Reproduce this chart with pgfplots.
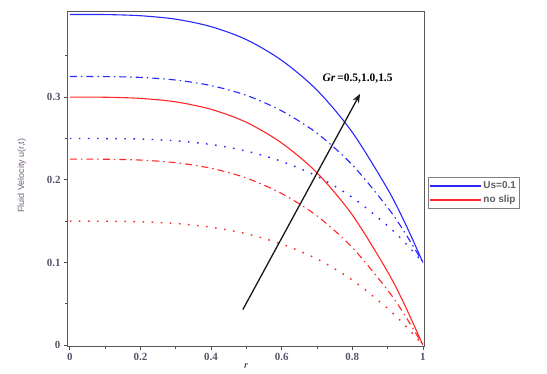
\documentclass[border=0pt]{standalone}
\usepackage{pgfplots}
\pgfplotsset{compat=1.18}
\usepackage{fontspec}
\setmainfont{Liberation Serif}
\newfontfamily\legfont{Liberation Sans}
\usetikzlibrary{arrows.meta}
\definecolor{myblue}{RGB}{40,40,255}
\definecolor{myred}{RGB}{255,40,40}
\definecolor{ticktxt}{RGB}{85,85,105}
\definecolor{labtxt}{RGB}{115,95,125}
\definecolor{legtxt}{RGB}{95,95,95}
\begin{document}
\begin{tikzpicture}
\begin{axis}[
  scale only axis, width=356bp, height=334bp,
  at={(0,0)}, anchor=south west,
  xmin=-0.005, xmax=1.003, ymin=-0.001, ymax=0.403,
  xtick={0,0.2,0.4,0.6,0.8,1},
  xticklabels={0,0.2,0.4,0.6,0.8,1},
  minor xtick={0.1,0.3,0.5,0.7,0.9},
  ytick={0,0.1,0.2,0.3},
  yticklabels={0,0.1,0.2,0.3},
  minor ytick={0.05,0.15,0.25,0.35},
  tick align=outside,
  major tick length=4bp, minor tick length=3bp,
  tick style={black!70, line width=0.7bp},
  axis line style={black!65, line width=1bp},
  tick label style={font=\fontsize{11}{13}\selectfont\bfseries, text=ticktxt},
  /pgf/number format/assume math mode=true,
  xtick pos=bottom, ytick pos=left,
  ylabel={Fluid Velocity u(r,t)},
  ylabel style={font=\legfont\fontsize{9}{11}\selectfont, text=labtxt, at={(axis description cs:-0.13,0.51)}, anchor=center},
  xlabel={\textit{r}},
  xlabel style={font=\fontsize{10}{12}\selectfont, at={(axis description cs:0.5,-0.052)}, anchor=north, inner sep=0pt},
  legend style={at={(1.011,0.458)}, anchor=west, font=\legfont\fontsize{10}{11}\selectfont\bfseries,
    draw=black!50, line width=0.9bp, inner sep=2bp, row sep=1.5bp},
  legend cell align=left,
  clip=false,
]
% blue solid (Us=0.1)
\addplot[myblue, line width=1.1bp, smooth,
  legend image code/.code={\fill[fill=myblue] (0cm,-0.5bp) rectangle (50bp,0.5bp);}] coordinates {
(0,0.400)(0.1,0.3999)(0.2,0.3985)(0.3,0.3943)(0.4,0.3853)(0.5,0.3696)(0.6,0.3445)(0.7,0.3085)(0.8,0.2575)(0.9,0.1888)(0.95,0.1471)(1,0.100)};
\addlegendentry{\color{legtxt}Us=0.1}
% red solid (no slip)
\addplot[myred, line width=1.1bp, smooth,
  legend image code/.code={\fill[fill=myred] (0cm,-0.5bp) rectangle (50bp,0.5bp);}] coordinates {
(0,0.300)(0.1,0.2999)(0.2,0.2985)(0.3,0.2943)(0.4,0.2853)(0.5,0.2696)(0.6,0.2445)(0.7,0.2085)(0.8,0.1575)(0.9,0.0888)(0.95,0.0471)(1,0)};
\addlegendentry{\color{legtxt}no slip}
% blue dash-dot
\addplot[myblue, line width=1.1bp, smooth, dash pattern=on 7bp off 4bp on 1.5bp off 4bp, forget plot] coordinates {
(0,0.325)(0.1,0.3249)(0.2,0.3239)(0.3,0.3207)(0.4,0.3140)(0.5,0.3022)(0.6,0.2834)(0.7,0.2564)(0.8,0.2181)(0.9,0.1666)(0.95,0.1353)(1,0.100)};
% blue dotted
\addplot[myblue, line width=1.4bp, smooth, dash pattern=on 1.6bp off 7.5bp, forget plot] coordinates {
(0,0.250)(0.1,0.2499)(0.2,0.2493)(0.3,0.2472)(0.4,0.2427)(0.5,0.2348)(0.6,0.2223)(0.7,0.2043)(0.8,0.1788)(0.9,0.1444)(0.95,0.1236)(1,0.100)};
% red dash-dot
\addplot[myred, line width=1.1bp, smooth, dash pattern=on 7bp off 4bp on 1.5bp off 4bp, forget plot] coordinates {
(0,0.225)(0.1,0.2249)(0.2,0.2239)(0.3,0.2207)(0.4,0.2140)(0.5,0.2022)(0.6,0.1834)(0.7,0.1564)(0.8,0.1181)(0.9,0.0666)(0.95,0.0353)(1,0)};
% red dotted
\addplot[myred, line width=1.4bp, smooth, dash pattern=on 1.6bp off 7.5bp, forget plot] coordinates {
(0,0.150)(0.1,0.1499)(0.2,0.1493)(0.3,0.1472)(0.4,0.1427)(0.5,0.1348)(0.6,0.1223)(0.7,0.1043)(0.8,0.0788)(0.9,0.0444)(0.95,0.0236)(1,0)};
% annotation arrow and text
\draw[-{Stealth[length=9bp,width=7bp]}, line width=1.3bp, black!90] (axis cs:0.49,0.043) -- (axis cs:0.822,0.304);
\node[font=\fontsize{11.5}{13}\selectfont\bfseries, inner sep=0pt] at (axis cs:0.815,0.322) {\textit{Gr}\,=0.5,1.0,1.5};
\end{axis}
\pgfresetboundingbox
\path[use as bounding box] (-68bp,-28bp) rectangle (479bp,346bp);
\end{tikzpicture}
\end{document}
